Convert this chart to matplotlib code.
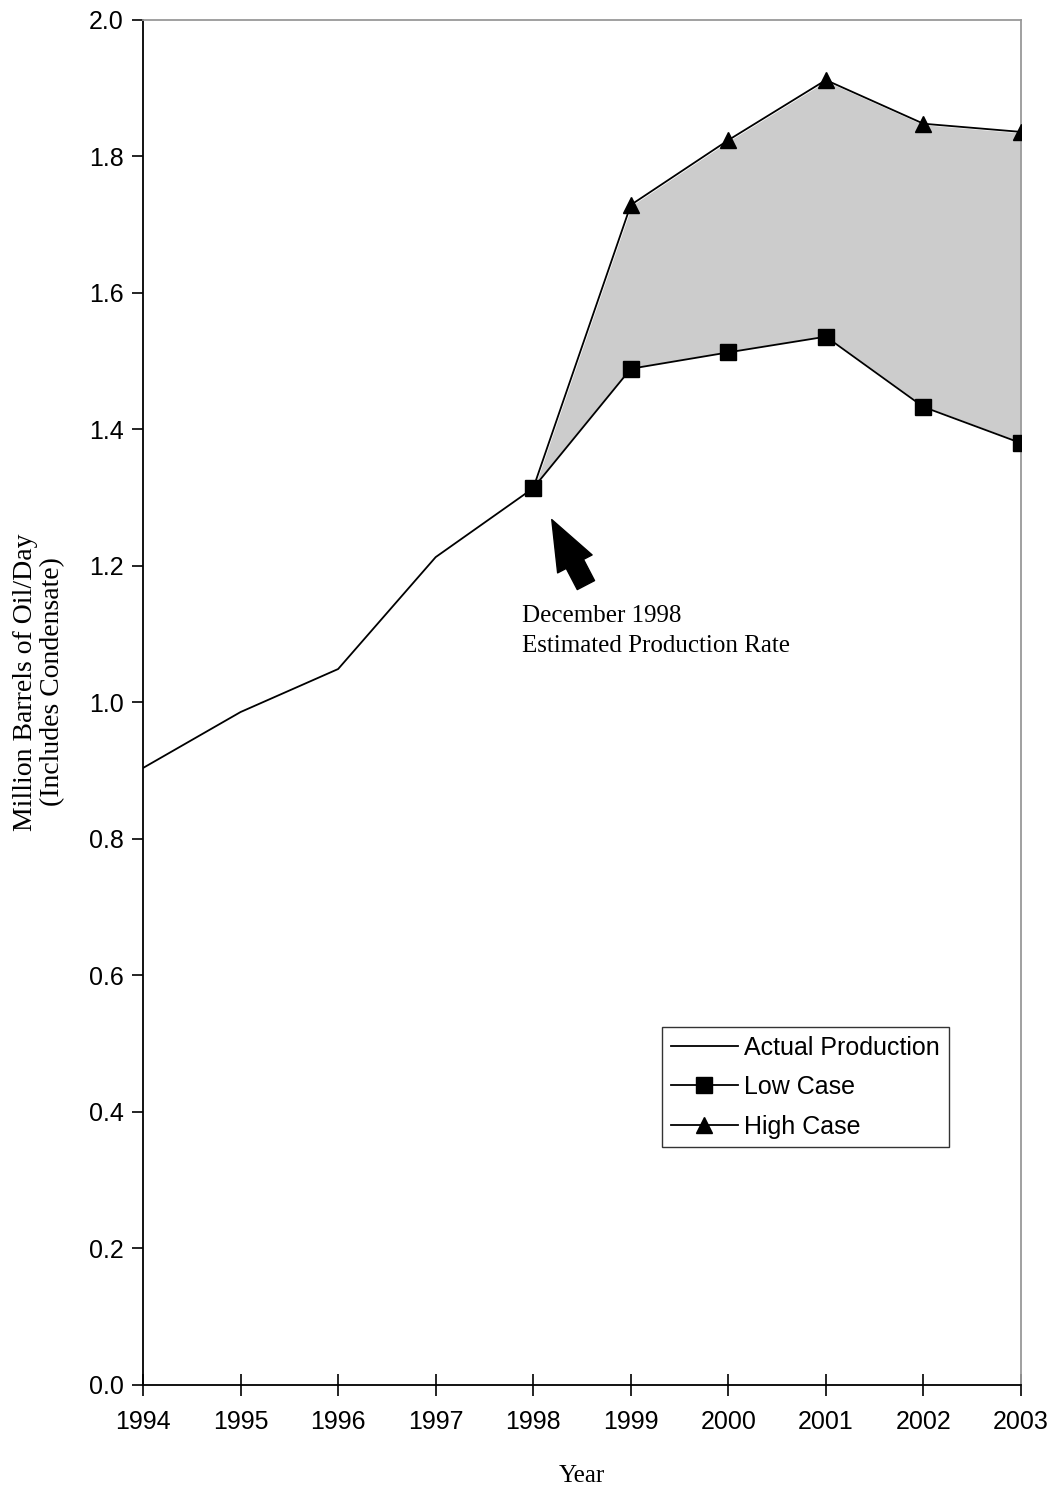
import matplotlib
matplotlib.use('Agg')
import matplotlib.pyplot as plt

# Production history and forecast cases (million barrels/day)
actual_years = [1994, 1995, 1996, 1997, 1998]
actual_prod = [0.904, 0.986, 1.049, 1.213, 1.314]

case_years = [1998, 1999, 2000, 2001, 2002, 2003]
low_case = [1.314, 1.489, 1.513, 1.536, 1.433, 1.380]
high_case = [1.314, 1.729, 1.824, 1.912, 1.848, 1.836]

year_ticks = list(range(1994, 2004))
y_ticks = [0.0, 0.2, 0.4, 0.6, 0.8, 1.0, 1.2, 1.4, 1.6, 1.8, 2.0]

sans = 'Liberation Sans'
serif = 'Liberation Serif'

fig = plt.figure(figsize=(10.56, 14.91), dpi=100)
ax = fig.add_axes([0.1354, 0.0711, 0.8315, 0.9155])

# shaded band between the two forecast cases
ax.fill_between(case_years, low_case, high_case, facecolor='#cccccc',
                edgecolor='white', linewidth=1.5, zorder=1)

ax.plot(actual_years, actual_prod, color='black', lw=1.3, zorder=2,
        label='Actual Production')
ax.plot(case_years, low_case, color='black', lw=1.3, marker='s', ms=11,
        zorder=3, label='Low Case')
ax.plot(case_years, high_case, color='black', lw=1.3, marker='^', ms=11,
        markevery=list(range(1, len(case_years))), zorder=3, label='High Case')

ax.set_xlim(1994, 2003)
ax.set_ylim(0, 2.0)
ax.set_xticks(year_ticks)
ax.set_xticklabels([str(y) for y in year_ticks], fontfamily=sans, fontsize=18)
ax.set_yticks(y_ticks)
ax.set_yticklabels([f'{v:.1f}' for v in y_ticks], fontfamily=sans, fontsize=18)
ax.tick_params(axis='x', direction='inout', length=16, width=1.2, pad=10)
ax.tick_params(axis='y', direction='out', length=8, width=1.2, pad=6)

for side in ['left', 'bottom']:
    ax.spines[side].set_color('black')
    ax.spines[side].set_linewidth(1.3)
for side in ['top', 'right']:
    ax.spines[side].set_color('#999999')
    ax.spines[side].set_linewidth(1.3)

ax.set_xlabel('Year', fontfamily=serif, fontsize=18, labelpad=22)
ax.set_ylabel('Million Barrels of Oil/Day\n(Includes Condensate)',
              fontfamily=serif, fontsize=20, linespacing=1.1)
ax.yaxis.set_label_coords(-0.089, 0.515)

# arrow pointing at the December 1998 estimate
ax.annotate('', xy=(1998.19, 1.268), xytext=(1998.54, 1.172),
            arrowprops=dict(arrowstyle='simple,head_width=1.4,head_length=1.8,tail_width=0.7',
                            fc='black', ec='black', mutation_scale=20,
                            shrinkA=0, shrinkB=0))
ax.text(1997.88, 1.105, 'December 1998\nEstimated Production Rate',
        fontfamily=serif, fontsize=18, va='center', ha='left', linespacing=1.5)

leg = ax.legend(loc='lower left', bbox_to_anchor=(0.591, 0.174),
                prop={'family': sans, 'size': 18}, frameon=True, fancybox=False,
                edgecolor='black', handlelength=2.7, handletextpad=0.25,
                borderpad=0.35, labelspacing=0.62, borderaxespad=0)
leg.get_frame().set_linewidth(1.0)

fig.savefig('out.png', dpi=100)
